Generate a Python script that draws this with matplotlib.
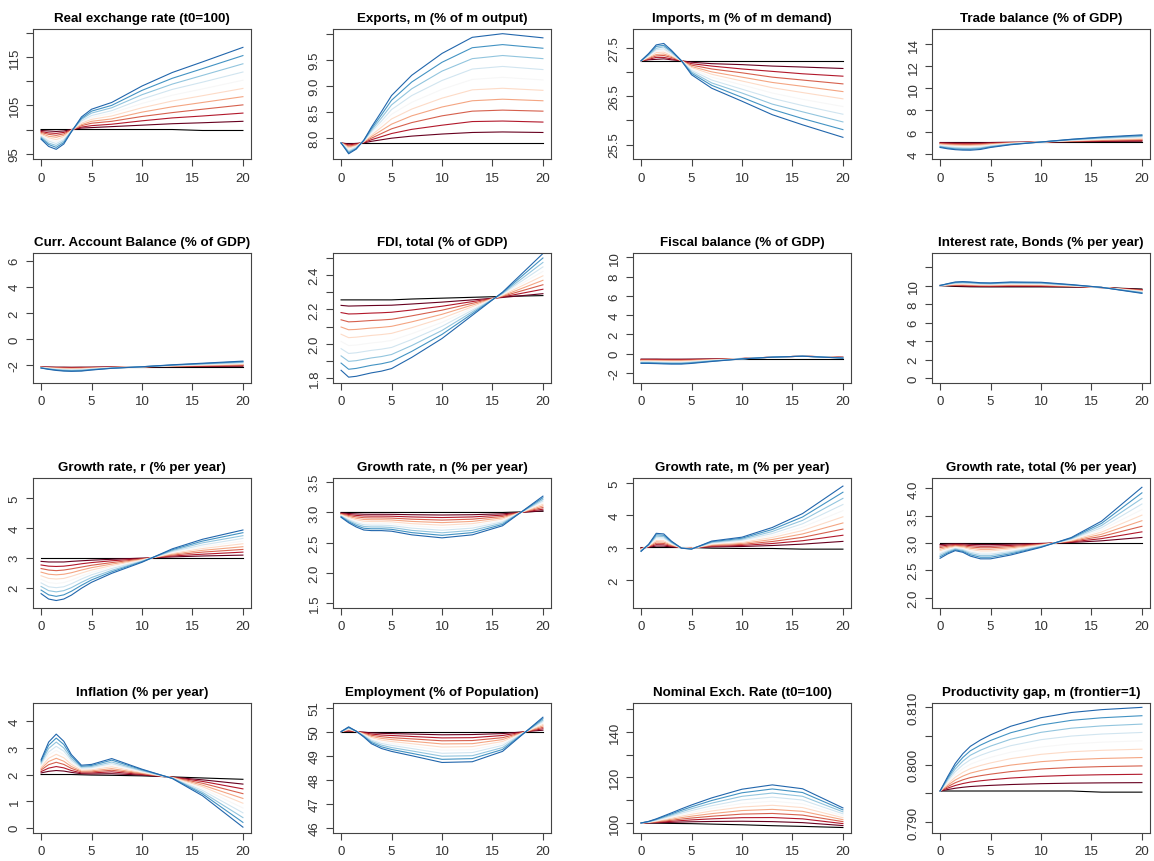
import matplotlib
matplotlib.use('Agg')
import matplotlib.pyplot as plt

T = [0, 0.75, 1.5, 2.25, 3, 4, 5, 7, 10, 13, 16, 20]

TITLES = [
    'Real exchange rate (t0=100)', 'Exports, m (% of m output)',
    'Imports, m (% of m demand)', 'Trade balance (% of GDP)',
    'Curr. Account Balance (% of GDP)', 'FDI, total (% of GDP)',
    'Fiscal balance (% of GDP)', 'Interest rate, Bonds (% per year)',
    'Growth rate, r (% per year)', 'Growth rate, n (% per year)',
    'Growth rate, m (% per year)', 'Growth rate, total (% per year)',
    'Inflation (% per year)', 'Employment (% of Population)',
    'Nominal Exch. Rate (t0=100)', 'Productivity gap, m (frontier=1)',
]

# each panel: baseline (black) first, then the 10 scenario lines (red -> blue)
REAL_EXCH = [
    [100, 100, 100, 100, 100, 100, 100, 100, 100, 100, 99.8, 99.8],
    [99.8, 99.7, 99.6, 99.7, 100.0, 100.3, 100.4, 100.6, 100.9, 101.2, 101.4, 101.7],
    [99.6, 99.3, 99.2, 99.4, 99.9, 100.5, 100.8, 101.1, 101.8, 102.4, 102.8, 103.4],
    [99.4, 99.0, 98.8, 99.1, 99.9, 100.8, 101.3, 101.7, 102.7, 103.5, 104.2, 105.1],
    [99.2, 98.6, 98.4, 98.8, 99.8, 101.0, 101.7, 102.2, 103.6, 104.7, 105.6, 106.8],
    [99.0, 98.3, 97.9, 98.5, 99.8, 101.3, 102.1, 102.8, 104.5, 105.9, 107.0, 108.5],
    [98.8, 97.9, 97.5, 98.2, 99.7, 101.6, 102.5, 103.4, 105.4, 107.1, 108.4, 110.2],
    [98.6, 97.6, 97.1, 97.9, 99.7, 101.8, 102.9, 103.9, 106.3, 108.3, 109.8, 111.9],
    [98.4, 97.2, 96.7, 97.6, 99.6, 102.1, 103.4, 104.5, 107.2, 109.4, 111.2, 113.6],
    [98.2, 96.9, 96.3, 97.3, 99.6, 102.3, 103.8, 105.0, 108.1, 110.6, 112.6, 115.3],
    [98.0, 96.5, 95.9, 97.0, 99.5, 102.6, 104.2, 105.6, 109.0, 111.8, 114.0, 117.0],
]
EXPORTS = [
    [7.9] * 12,
    [7.9, 7.88, 7.89, 7.90, 7.93, 7.96, 7.99, 8.03, 8.07, 8.10, 8.11, 8.10],
    [7.9, 7.86, 7.88, 7.91, 7.96, 8.02, 8.08, 8.16, 8.24, 8.31, 8.32, 8.30],
    [7.9, 7.84, 7.86, 7.92, 7.99, 8.08, 8.17, 8.29, 8.42, 8.51, 8.53, 8.51],
    [7.9, 7.82, 7.85, 7.92, 8.02, 8.14, 8.26, 8.42, 8.59, 8.71, 8.74, 8.71],
    [7.9, 7.80, 7.84, 7.93, 8.05, 8.20, 8.36, 8.55, 8.76, 8.92, 8.95, 8.91],
    [7.9, 7.77, 7.83, 7.93, 8.08, 8.26, 8.45, 8.68, 8.93, 9.12, 9.16, 9.11],
    [7.9, 7.75, 7.82, 7.94, 8.11, 8.32, 8.54, 8.81, 9.10, 9.32, 9.37, 9.31],
    [7.9, 7.73, 7.80, 7.94, 8.14, 8.38, 8.63, 8.94, 9.28, 9.52, 9.58, 9.52],
    [7.9, 7.71, 7.79, 7.95, 8.17, 8.44, 8.72, 9.07, 9.45, 9.73, 9.79, 9.72],
    [7.9, 7.69, 7.78, 7.95, 8.20, 8.50, 8.81, 9.20, 9.62, 9.93, 10.0, 9.92],
]
IMPORTS = [
    [27.24] * 12,
    [27.24, 27.26, 27.27, 27.28, 27.26, 27.24, 27.21, 27.18, 27.16, 27.13, 27.11, 27.08],
    [27.24, 27.27, 27.31, 27.31, 27.28, 27.24, 27.18, 27.13, 27.07, 27.02, 26.97, 26.92],
    [27.24, 27.29, 27.34, 27.35, 27.31, 27.24, 27.15, 27.07, 26.99, 26.90, 26.84, 26.76],
    [27.24, 27.30, 27.37, 27.38, 27.33, 27.24, 27.12, 27.01, 26.90, 26.79, 26.71, 26.60],
    [27.24, 27.32, 27.41, 27.42, 27.35, 27.24, 27.10, 26.96, 26.82, 26.68, 26.58, 26.45],
    [27.24, 27.33, 27.44, 27.46, 27.37, 27.24, 27.07, 26.90, 26.74, 26.57, 26.44, 26.29],
    [27.24, 27.35, 27.47, 27.49, 27.39, 27.24, 27.04, 26.84, 26.65, 26.46, 26.31, 26.13],
    [27.24, 27.36, 27.50, 27.53, 27.42, 27.24, 27.01, 26.78, 26.57, 26.34, 26.18, 25.97],
    [27.24, 27.38, 27.54, 27.56, 27.44, 27.24, 26.98, 26.73, 26.48, 26.23, 26.04, 25.81],
    [27.24, 27.39, 27.57, 27.60, 27.46, 27.24, 26.95, 26.67, 26.40, 26.12, 25.91, 25.65],
]
TRADE_BAL = [
    [5.12] * 12,
    [5.05, 5.04, 5.03, 5.03, 5.03, 5.03, 5.05, 5.08, 5.10, 5.13, 5.15, 5.17],
    [5.00, 4.98, 4.96, 4.95, 4.95, 4.96, 5.00, 5.05, 5.10, 5.15, 5.19, 5.23],
    [4.95, 4.91, 4.89, 4.88, 4.88, 4.90, 4.95, 5.03, 5.10, 5.18, 5.24, 5.30],
    [4.90, 4.85, 4.82, 4.80, 4.80, 4.83, 4.90, 5.00, 5.10, 5.20, 5.28, 5.36],
    [4.85, 4.79, 4.75, 4.73, 4.73, 4.76, 4.85, 4.98, 5.10, 5.23, 5.33, 5.43],
    [4.80, 4.73, 4.68, 4.66, 4.65, 4.69, 4.80, 4.95, 5.10, 5.25, 5.37, 5.49],
    [4.75, 4.67, 4.61, 4.58, 4.58, 4.62, 4.75, 4.93, 5.10, 5.28, 5.42, 5.56],
    [4.70, 4.60, 4.54, 4.51, 4.50, 4.56, 4.70, 4.90, 5.10, 5.30, 5.46, 5.62],
    [4.65, 4.54, 4.47, 4.43, 4.43, 4.49, 4.65, 4.88, 5.10, 5.33, 5.51, 5.69],
    [4.60, 4.48, 4.40, 4.36, 4.35, 4.42, 4.60, 4.85, 5.10, 5.35, 5.55, 5.75],
]
CUR_ACC = [
    [-2.1] * 12,
    [-2.11, -2.12, -2.13, -2.13, -2.14, -2.13, -2.13, -2.11, -2.10, -2.09, -2.07, -2.06],
    [-2.12, -2.14, -2.16, -2.17, -2.17, -2.17, -2.15, -2.12, -2.10, -2.07, -2.05, -2.01],
    [-2.13, -2.16, -2.18, -2.20, -2.21, -2.20, -2.18, -2.14, -2.10, -2.06, -2.02, -1.97],
    [-2.14, -2.18, -2.21, -2.23, -2.24, -2.23, -2.20, -2.15, -2.10, -2.04, -1.99, -1.93],
    [-2.15, -2.20, -2.24, -2.27, -2.28, -2.27, -2.23, -2.16, -2.10, -2.03, -1.97, -1.89],
    [-2.16, -2.22, -2.27, -2.30, -2.31, -2.30, -2.25, -2.17, -2.10, -2.01, -1.94, -1.84],
    [-2.17, -2.24, -2.30, -2.33, -2.35, -2.33, -2.28, -2.18, -2.10, -2.00, -1.91, -1.80],
    [-2.18, -2.26, -2.32, -2.36, -2.38, -2.36, -2.30, -2.20, -2.10, -1.98, -1.88, -1.76],
    [-2.19, -2.28, -2.35, -2.40, -2.42, -2.40, -2.33, -2.21, -2.10, -1.97, -1.86, -1.71],
    [-2.20, -2.30, -2.38, -2.43, -2.45, -2.43, -2.35, -2.22, -2.10, -1.95, -1.83, -1.67],
]
FDI = [
    [2.255, 2.255, 2.255, 2.255, 2.255, 2.255, 2.255, 2.26, 2.265, 2.27, 2.275, 2.28],
    [2.223, 2.219, 2.220, 2.221, 2.222, 2.223, 2.224, 2.231, 2.242, 2.255, 2.269, 2.291],
    [2.181, 2.173, 2.174, 2.176, 2.178, 2.180, 2.183, 2.196, 2.218, 2.245, 2.272, 2.317],
    [2.139, 2.127, 2.129, 2.132, 2.135, 2.138, 2.142, 2.162, 2.195, 2.235, 2.276, 2.343],
    [2.097, 2.081, 2.083, 2.087, 2.091, 2.095, 2.101, 2.127, 2.171, 2.225, 2.279, 2.369],
    [2.055, 2.035, 2.038, 2.043, 2.048, 2.053, 2.060, 2.093, 2.148, 2.215, 2.283, 2.395],
    [2.013, 1.989, 1.992, 1.998, 2.004, 2.010, 2.019, 2.058, 2.124, 2.205, 2.286, 2.421],
    [1.971, 1.943, 1.947, 1.954, 1.961, 1.968, 1.978, 2.024, 2.101, 2.195, 2.290, 2.447],
    [1.929, 1.897, 1.901, 1.909, 1.917, 1.925, 1.937, 1.989, 2.077, 2.185, 2.293, 2.473],
    [1.887, 1.851, 1.856, 1.865, 1.874, 1.883, 1.896, 1.955, 2.054, 2.175, 2.297, 2.499],
    [1.845, 1.805, 1.810, 1.820, 1.830, 1.840, 1.855, 1.920, 2.030, 2.165, 2.300, 2.525],
]
FISCAL = [
    [-0.5] * 12,
    [-0.55, -0.55, -0.55, -0.56, -0.56, -0.56, -0.55, -0.53, -0.49, -0.35, -0.25, -0.36],
    [-0.60, -0.60, -0.60, -0.61, -0.61, -0.61, -0.60, -0.56, -0.49, -0.35, -0.25, -0.37],
    [-0.65, -0.65, -0.66, -0.67, -0.67, -0.67, -0.65, -0.59, -0.50, -0.35, -0.25, -0.38],
    [-0.70, -0.70, -0.71, -0.72, -0.73, -0.73, -0.70, -0.62, -0.50, -0.35, -0.25, -0.39],
    [-0.75, -0.75, -0.76, -0.78, -0.79, -0.79, -0.75, -0.65, -0.51, -0.35, -0.25, -0.40],
    [-0.80, -0.80, -0.81, -0.83, -0.84, -0.84, -0.80, -0.68, -0.51, -0.35, -0.25, -0.41],
    [-0.85, -0.85, -0.86, -0.89, -0.90, -0.90, -0.85, -0.71, -0.52, -0.35, -0.25, -0.42],
    [-0.90, -0.90, -0.92, -0.94, -0.96, -0.96, -0.90, -0.74, -0.52, -0.35, -0.25, -0.43],
    [-0.95, -0.95, -0.97, -1.00, -1.01, -1.01, -0.95, -0.77, -0.53, -0.35, -0.25, -0.44],
    [-1.00, -1.00, -1.02, -1.05, -1.07, -1.07, -1.00, -0.80, -0.53, -0.35, -0.25, -0.45],
]
INTEREST = [
    [10.0, 9.95, 9.90, 9.88, 9.86, 9.85, 9.85, 9.85, 9.85, 9.83, 9.78, 9.62],
    [10.0, 9.98, 9.95, 9.93, 9.91, 9.90, 9.89, 9.90, 9.90, 9.86, 9.78, 9.57],
    [10.0, 10.00, 10.00, 9.99, 9.96, 9.94, 9.94, 9.96, 9.95, 9.88, 9.78, 9.53],
    [10.0, 10.03, 10.04, 10.04, 10.02, 9.99, 9.98, 10.01, 10.00, 9.91, 9.79, 9.48],
    [10.0, 10.05, 10.09, 10.10, 10.07, 10.03, 10.02, 10.06, 10.05, 9.94, 9.79, 9.43],
    [10.0, 10.08, 10.14, 10.15, 10.12, 10.08, 10.07, 10.12, 10.10, 9.97, 9.79, 9.39],
    [10.0, 10.10, 10.19, 10.20, 10.17, 10.12, 10.11, 10.17, 10.15, 9.99, 9.79, 9.34],
    [10.0, 10.13, 10.24, 10.26, 10.22, 10.17, 10.15, 10.22, 10.20, 10.02, 9.79, 9.29],
    [10.0, 10.15, 10.28, 10.31, 10.28, 10.21, 10.19, 10.27, 10.25, 10.05, 9.80, 9.24],
    [10.0, 10.18, 10.33, 10.37, 10.33, 10.26, 10.24, 10.33, 10.30, 10.07, 9.80, 9.20],
    [10.0, 10.20, 10.38, 10.42, 10.38, 10.30, 10.28, 10.38, 10.35, 10.10, 9.80, 9.15],
]
GROWTH_R = [
    [3.0] * 12,
    [2.88, 2.86, 2.86, 2.86, 2.88, 2.90, 2.92, 2.95, 2.99, 3.03, 3.06, 3.09],
    [2.76, 2.72, 2.71, 2.72, 2.75, 2.80, 2.84, 2.90, 2.97, 3.06, 3.12, 3.19],
    [2.64, 2.59, 2.57, 2.59, 2.63, 2.69, 2.75, 2.84, 2.96, 3.09, 3.19, 3.28],
    [2.52, 2.45, 2.43, 2.45, 2.50, 2.59, 2.67, 2.79, 2.94, 3.12, 3.25, 3.37],
    [2.40, 2.31, 2.29, 2.31, 2.38, 2.49, 2.59, 2.74, 2.93, 3.15, 3.31, 3.47],
    [2.28, 2.17, 2.14, 2.17, 2.25, 2.39, 2.51, 2.69, 2.91, 3.18, 3.37, 3.56],
    [2.16, 2.03, 2.00, 2.03, 2.13, 2.29, 2.43, 2.64, 2.90, 3.21, 3.43, 3.65],
    [2.04, 1.90, 1.86, 1.90, 2.00, 2.18, 2.34, 2.58, 2.88, 3.24, 3.50, 3.74],
    [1.92, 1.76, 1.71, 1.76, 1.88, 2.08, 2.26, 2.53, 2.87, 3.27, 3.56, 3.84],
    [1.80, 1.62, 1.57, 1.62, 1.75, 1.98, 2.18, 2.48, 2.85, 3.30, 3.62, 3.93],
]
GROWTH_N = [
    [3.0, 3.0, 3.0, 3.0, 3.0, 3.0, 3.0, 3.0, 3.0, 3.0, 3.0, 3.02],
    [2.992, 2.983, 2.976, 2.971, 2.970, 2.970, 2.969, 2.963, 2.958, 2.963, 2.978, 3.027],
    [2.984, 2.966, 2.952, 2.942, 2.940, 2.940, 2.938, 2.926, 2.916, 2.926, 2.956, 3.054],
    [2.976, 2.949, 2.928, 2.913, 2.910, 2.910, 2.907, 2.889, 2.874, 2.889, 2.934, 3.081],
    [2.968, 2.932, 2.904, 2.884, 2.880, 2.880, 2.876, 2.852, 2.832, 2.852, 2.912, 3.108],
    [2.960, 2.915, 2.880, 2.855, 2.850, 2.850, 2.845, 2.815, 2.790, 2.815, 2.890, 3.135],
    [2.952, 2.898, 2.856, 2.826, 2.820, 2.820, 2.814, 2.778, 2.748, 2.778, 2.868, 3.162],
    [2.944, 2.881, 2.832, 2.797, 2.790, 2.790, 2.783, 2.741, 2.706, 2.741, 2.846, 3.189],
    [2.936, 2.864, 2.808, 2.768, 2.760, 2.760, 2.752, 2.704, 2.664, 2.704, 2.824, 3.216],
    [2.928, 2.847, 2.784, 2.739, 2.730, 2.730, 2.721, 2.667, 2.622, 2.667, 2.802, 3.243],
    [2.920, 2.830, 2.760, 2.710, 2.700, 2.700, 2.690, 2.630, 2.580, 2.630, 2.780, 3.270],
]
GROWTH_M = [
    [3.0, 3.0, 3.0, 3.0, 3.0, 3.0, 3.0, 2.98, 2.97, 2.97, 2.95, 2.95],
    [2.988, 3.010, 3.044, 3.042, 3.020, 2.998, 2.995, 3.020, 3.032, 3.062, 3.105, 3.19],
    [2.976, 3.020, 3.088, 3.084, 3.040, 2.996, 2.990, 3.040, 3.064, 3.124, 3.210, 3.38],
    [2.964, 3.030, 3.132, 3.126, 3.060, 2.994, 2.985, 3.060, 3.096, 3.186, 3.315, 3.57],
    [2.952, 3.040, 3.176, 3.168, 3.080, 2.992, 2.980, 3.080, 3.128, 3.248, 3.420, 3.76],
    [2.940, 3.050, 3.220, 3.210, 3.100, 2.990, 2.975, 3.100, 3.160, 3.310, 3.525, 3.95],
    [2.928, 3.060, 3.264, 3.252, 3.120, 2.988, 2.970, 3.120, 3.192, 3.372, 3.630, 4.14],
    [2.916, 3.070, 3.308, 3.294, 3.140, 2.986, 2.965, 3.140, 3.224, 3.434, 3.735, 4.33],
    [2.904, 3.080, 3.352, 3.336, 3.160, 2.984, 2.960, 3.160, 3.256, 3.496, 3.840, 4.52],
    [2.892, 3.090, 3.396, 3.378, 3.180, 2.982, 2.955, 3.180, 3.288, 3.558, 3.945, 4.71],
    [2.880, 3.100, 3.440, 3.420, 3.200, 2.980, 2.950, 3.200, 3.320, 3.620, 4.050, 4.90],
]
GROWTH_TOT = [
    [3.0] * 12,
    [2.972, 2.980, 2.986, 2.983, 2.976, 2.971, 2.971, 2.978, 2.992, 3.010, 3.040, 3.102],
    [2.944, 2.960, 2.972, 2.966, 2.952, 2.942, 2.942, 2.956, 2.984, 3.020, 3.080, 3.204],
    [2.916, 2.940, 2.958, 2.949, 2.928, 2.913, 2.913, 2.934, 2.976, 3.030, 3.120, 3.306],
    [2.888, 2.920, 2.944, 2.932, 2.904, 2.884, 2.884, 2.912, 2.968, 3.040, 3.160, 3.408],
    [2.860, 2.900, 2.930, 2.915, 2.880, 2.855, 2.855, 2.890, 2.960, 3.050, 3.200, 3.510],
    [2.832, 2.880, 2.916, 2.898, 2.856, 2.826, 2.826, 2.868, 2.952, 3.060, 3.240, 3.612],
    [2.804, 2.860, 2.902, 2.881, 2.832, 2.797, 2.797, 2.846, 2.944, 3.070, 3.280, 3.714],
    [2.776, 2.840, 2.888, 2.864, 2.808, 2.768, 2.768, 2.824, 2.936, 3.080, 3.320, 3.816],
    [2.748, 2.820, 2.874, 2.847, 2.784, 2.739, 2.739, 2.802, 2.928, 3.090, 3.360, 3.918],
    [2.720, 2.800, 2.860, 2.830, 2.760, 2.710, 2.710, 2.780, 2.920, 3.100, 3.400, 4.020],
]
INFLATION = [
    [2.0, 2.0, 2.0, 2.0, 2.0, 1.99, 1.98, 1.97, 1.95, 1.91, 1.87, 1.82],
    [2.06, 2.12, 2.15, 2.13, 2.08, 2.03, 2.02, 2.03, 1.98, 1.90, 1.80, 1.64],
    [2.11, 2.24, 2.30, 2.25, 2.15, 2.06, 2.06, 2.10, 2.00, 1.90, 1.74, 1.46],
    [2.17, 2.37, 2.46, 2.38, 2.23, 2.10, 2.10, 2.16, 2.03, 1.89, 1.67, 1.28],
    [2.22, 2.49, 2.61, 2.50, 2.30, 2.13, 2.14, 2.22, 2.05, 1.89, 1.60, 1.10],
    [2.28, 2.61, 2.76, 2.63, 2.38, 2.17, 2.18, 2.29, 2.08, 1.88, 1.54, 0.92],
    [2.33, 2.73, 2.91, 2.75, 2.45, 2.21, 2.22, 2.35, 2.10, 1.87, 1.47, 0.74],
    [2.39, 2.85, 3.06, 2.88, 2.53, 2.24, 2.26, 2.41, 2.13, 1.87, 1.40, 0.56],
    [2.44, 2.98, 3.22, 3.00, 2.60, 2.28, 2.30, 2.47, 2.15, 1.86, 1.33, 0.38],
    [2.50, 3.10, 3.37, 3.13, 2.68, 2.31, 2.34, 2.54, 2.18, 1.86, 1.27, 0.20],
    [2.55, 3.22, 3.52, 3.25, 2.75, 2.35, 2.38, 2.60, 2.20, 1.85, 1.20, 0.02],
]
EMPLOYMENT = [
    [50.0] * 12,
    [50.0, 50.02, 50.00, 49.98, 49.95, 49.93, 49.92, 49.90, 49.87, 49.88, 49.92, 50.06],
    [50.0, 50.04, 50.00, 49.96, 49.90, 49.86, 49.84, 49.80, 49.74, 49.75, 49.84, 50.12],
    [50.0, 50.06, 50.01, 49.93, 49.85, 49.79, 49.75, 49.70, 49.62, 49.63, 49.75, 50.18],
    [50.0, 50.08, 50.01, 49.91, 49.80, 49.72, 49.67, 49.60, 49.49, 49.50, 49.67, 50.24],
    [50.0, 50.10, 50.01, 49.89, 49.75, 49.65, 49.59, 49.50, 49.36, 49.38, 49.59, 50.30],
    [50.0, 50.12, 50.01, 49.87, 49.70, 49.58, 49.51, 49.40, 49.23, 49.25, 49.51, 50.36],
    [50.0, 50.14, 50.01, 49.85, 49.65, 49.51, 49.43, 49.30, 49.10, 49.13, 49.43, 50.42],
    [50.0, 50.16, 50.02, 49.82, 49.60, 49.44, 49.34, 49.20, 48.98, 49.00, 49.34, 50.48],
    [50.0, 50.18, 50.02, 49.80, 49.55, 49.37, 49.26, 49.10, 48.85, 48.88, 49.26, 50.54],
    [50.0, 50.20, 50.02, 49.78, 49.50, 49.30, 49.18, 49.00, 48.72, 48.75, 49.18, 50.60],
]
NOMINAL_EXCH = [
    [100, 99.95, 99.9, 99.85, 99.8, 99.75, 99.7, 99.5, 99.2, 98.8, 98.5, 98.0],
    [100, 100.03, 100.09, 100.18, 100.26, 100.40, 100.52, 100.65, 100.76, 100.59, 100.15, 98.86],
    [100, 100.10, 100.28, 100.50, 100.72, 101.04, 101.34, 101.80, 102.32, 102.38, 101.80, 99.72],
    [100, 100.18, 100.47, 100.83, 101.18, 101.69, 102.16, 102.95, 103.88, 104.17, 103.45, 100.58],
    [100, 100.25, 100.66, 101.15, 101.64, 102.33, 102.98, 104.10, 105.44, 105.96, 105.10, 101.44],
    [100, 100.33, 100.85, 101.48, 102.10, 102.98, 103.80, 105.25, 107.00, 107.75, 106.75, 102.30],
    [100, 100.40, 101.04, 101.80, 102.56, 103.62, 104.62, 106.40, 108.56, 109.54, 108.40, 103.16],
    [100, 100.48, 101.23, 102.13, 103.02, 104.27, 105.44, 107.55, 110.12, 111.33, 110.05, 104.02],
    [100, 100.55, 101.42, 102.45, 103.48, 104.91, 106.26, 108.70, 111.68, 113.12, 111.70, 104.88],
    [100, 100.63, 101.61, 102.78, 103.94, 105.56, 107.08, 109.85, 113.24, 114.91, 113.35, 105.74],
    [100, 100.70, 101.80, 103.10, 104.40, 106.20, 107.90, 111.00, 114.80, 116.70, 115.00, 106.60],
]
PROD_GAP = [
    [0.7954] * 10 + [0.7952, 0.7952],
    [0.7954, 0.79565, 0.79588, 0.79605, 0.79618, 0.79629, 0.79638, 0.79653, 0.79668, 0.79677, 0.79682, 0.79686],
    [0.7954, 0.79590, 0.79636, 0.79670, 0.79696, 0.79718, 0.79736, 0.79766, 0.79796, 0.79814, 0.79824, 0.79832],
    [0.7954, 0.79615, 0.79684, 0.79735, 0.79774, 0.79807, 0.79834, 0.79879, 0.79924, 0.79951, 0.79966, 0.79978],
    [0.7954, 0.79640, 0.79732, 0.79800, 0.79852, 0.79896, 0.79932, 0.79992, 0.80052, 0.80088, 0.80108, 0.80124],
    [0.7954, 0.79665, 0.79780, 0.79865, 0.79930, 0.79985, 0.80030, 0.80105, 0.80180, 0.80225, 0.80250, 0.80270],
    [0.7954, 0.79690, 0.79828, 0.79930, 0.80008, 0.80074, 0.80128, 0.80218, 0.80308, 0.80362, 0.80392, 0.80416],
    [0.7954, 0.79715, 0.79876, 0.79995, 0.80086, 0.80163, 0.80226, 0.80331, 0.80436, 0.80499, 0.80534, 0.80562],
    [0.7954, 0.79740, 0.79924, 0.80060, 0.80164, 0.80252, 0.80324, 0.80444, 0.80564, 0.80636, 0.80676, 0.80708],
    [0.7954, 0.79765, 0.79972, 0.80125, 0.80242, 0.80341, 0.80422, 0.80557, 0.80692, 0.80773, 0.80818, 0.80854],
    [0.7954, 0.79790, 0.80020, 0.80190, 0.80320, 0.80430, 0.80520, 0.80670, 0.80820, 0.80910, 0.80960, 0.81000],
]

PANELS = [REAL_EXCH, EXPORTS, IMPORTS, TRADE_BAL, CUR_ACC, FDI, FISCAL, INTEREST,
          GROWTH_R, GROWTH_N, GROWTH_M, GROWTH_TOT,
          INFLATION, EMPLOYMENT, NOMINAL_EXCH, PROD_GAP]

YTICKS = [
    [95, 100, 105, 110, 115, 120], [8.0, 8.5, 9.0, 9.5, 10.0],
    [25.5, 26.0, 26.5, 27.0, 27.5], [4, 6, 8, 10, 12, 14],
    [-2, 0, 2, 4, 6], [1.8, 1.9, 2.0, 2.1, 2.2, 2.3, 2.4, 2.5],
    [-2, 0, 2, 4, 6, 8, 10], [0, 2, 4, 6, 8, 10, 12],
    [2, 3, 4, 5], [1.5, 2.0, 2.5, 3.0, 3.5],
    [2, 3, 4, 5], [2.0, 2.5, 3.0, 3.5, 4.0],
    [0, 1, 2, 3, 4], [46, 47, 48, 49, 50, 51],
    [100, 110, 120, 130, 140, 150], [0.790, 0.795, 0.800, 0.805, 0.810],
]
YTICKLABELS = [
    ['95', '', '105', '', '115', ''], ['8.0', '8.5', '9.0', '9.5', ''],
    ['25.5', '', '26.5', '', '27.5'], ['4', '6', '8', '10', '12', '14'],
    ['-2', '0', '2', '4', '6'], ['1.8', '', '2.0', '', '2.2', '', '2.4', ''],
    ['-2', '0', '2', '4', '6', '8', '10'], ['0', '2', '4', '6', '8', '10', ''],
    ['2', '3', '4', '5'], ['1.5', '2.0', '2.5', '3.0', '3.5'],
    ['2', '3', '4', '5'], ['2.0', '2.5', '3.0', '3.5', '4.0'],
    ['0', '1', '2', '3', '4'], ['46', '47', '48', '49', '50', '51'],
    ['100', '', '120', '', '140', ''], ['0.790', '', '0.800', '', '0.810'],
]
YLIMS = [
    (93.9, 120.8), (7.59, 10.09), (25.2, 27.9), (3.55, 15.4),
    (-3.34, 6.58), (1.771, 2.528), (-3.03, 10.45), (-0.5, 13.5),
    (1.32, 5.67), (1.42, 3.57), (1.13, 5.15), (1.81, 4.19),
    (-0.2, 4.69), (45.79, 51.19), (95.6, 152.6), (0.78807, 0.81076),
]

# black baseline + RdBu scenario colours
LINE_COLORS = ['black', '#67001F', '#B2182B', '#D6604D', '#F4A582', '#FDDBC7',
               '#F7F7F7', '#D1E5F0', '#92C5DE', '#4393C3', '#2166AC']

plt.rcParams['font.family'] = ['Liberation Sans', 'DejaVu Sans']

FW, FH = 1154, 862
LEFTS = [33, 333, 633, 932]
TOPS = [30, 254, 479, 704]
BOX_W, BOX_H = 218, 130

fig = plt.figure(figsize=(FW / 100, FH / 100), dpi=100)

for i, (title, series) in enumerate(zip(TITLES, PANELS)):
    r, c = divmod(i, 4)
    ax = fig.add_axes([LEFTS[c] / FW, 1 - (TOPS[r] + BOX_H) / FH, BOX_W / FW, BOX_H / FH])
    for line, col in zip(series, LINE_COLORS):
        ax.plot(T, line, color=col, lw=0.8)
    ax.set_xlim(-0.8, 20.8)
    ax.set_ylim(*YLIMS[i])
    ax.set_xticks([0, 5, 10, 15, 20])
    ax.set_yticks(YTICKS[i])
    ax.set_yticklabels(YTICKLABELS[i], rotation=90, va='center', ha='right')
    ax.set_title(title, fontweight='bold', fontsize=9.6, pad=6)
    ax.tick_params(direction='out', length=5, width=0.8, color='#444444',
                   labelsize=9.5, labelcolor='#333333', pad=4)
    for sp in ax.spines.values():
        sp.set_color('#444444')
        sp.set_linewidth(0.8)

fig.savefig('out.png', dpi=100)
